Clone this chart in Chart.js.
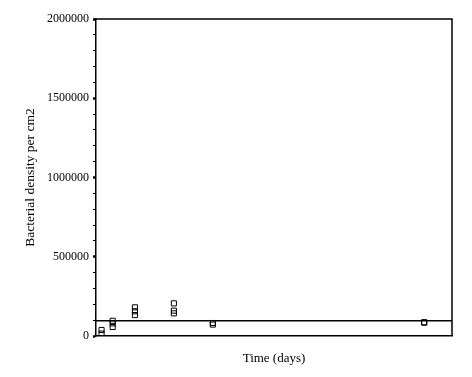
<!DOCTYPE html>
<html>
<head>
<meta charset="utf-8">
<script src="https://cdn.jsdelivr.net/npm/chart.js@4"></script>
<style>
  body { margin: 0; background: #fff; }
  #wrap { width: 472px; height: 377px; }
</style>
</head>
<body>
<div id="wrap"><canvas id="myChart"></canvas></div>
<script>
// sampling day of each measurement (x) and its density (y)
let sampleDay = [0.5, 0.5, 1.5, 1.5, 1.5, 3.5, 3.5, 3.5, 7, 7, 7, 10.5, 10.5, 29.5, 29.5];
let density = [38000, 15000, 96000, 80000, 57000, 181000, 156000, 132000, 206000, 160000, 143000, 82000, 72000, 87000, 84000];
let refLineX = [0, 32];
let refLineY = [97000, 97000];
let yTicksLabelled = [0, 500000, 1000000, 1500000, 2000000];

let points = sampleDay.map(function (d, i) { return { x: d, y: density[i] }; });
let refLine = refLineX.map(function (d, i) { return { x: d, y: refLineY[i] }; });

// top and right frame of the plot
const frame = {
    id: 'frame',
    afterDraw(chart) {
        let a = chart.chartArea;
        let c = chart.ctx;
        c.save();
        c.strokeStyle = '#000';
        c.lineWidth = 1.5;
        c.beginPath();
        c.moveTo(a.left, a.top);
        c.lineTo(a.right, a.top);
        c.lineTo(a.right, a.bottom);
        c.stroke();
        c.restore();
    }
};

const serif = "'Liberation Serif', 'Times New Roman', serif";
const ctx = document.getElementById('myChart').getContext('2d');
const myChart = new Chart(ctx, {
    type: 'scatter',
    data: {
        datasets: [{
            label: 'density',
            data: points,
            pointStyle: 'rect',
            pointRadius: 3.6,
            pointBorderWidth: 1,
            pointBorderColor: '#000',
            pointBackgroundColor: 'rgba(0,0,0,0)',
            showLine: false
        }, {
            label: 'line',
            data: refLine,
            type: 'line',
            borderColor: '#000',
            borderWidth: 1.5,
            pointRadius: 0
        }]
    },
    options: {
        responsive: true,
        maintainAspectRatio: false,
        animation: false,
        layout: { padding: { left: 0, right: 20, top: 19, bottom: 0 } },
        plugins: { legend: { display: false }, tooltip: { enabled: false } },
        scales: {
            x: {
                type: 'linear',
                min: 0,
                max: 32,
                ticks: { display: false },
                grid: { drawOnChartArea: false, drawTicks: false },
                border: { color: '#000', width: 1.5 },
                title: {
                    display: true,
                    text: 'Time (days)',
                    color: '#000',
                    font: { family: serif, size: 13 },
                    padding: { top: 0, bottom: 11 }
                },
                afterFit(scale) { scale.height = 41; }
            },
            y: {
                min: 0,
                max: 2000000,
                ticks: {
                    stepSize: 100000,
                    autoSkip: false,
                    padding: 4,
                    color: '#000',
                    font: { family: serif, size: 12 },
                    callback: function (v) { return yTicksLabelled.includes(v) ? String(v) : ''; }
                },
                grid: {
                    drawOnChartArea: false,
                    tickLength: 3,
                    tickColor: '#000',
                    tickWidth: function (c) { return yTicksLabelled.includes(c.tick.value) ? 2.5 : 1; }
                },
                border: { color: '#000', width: 1.5 },
                title: {
                    display: true,
                    text: 'Bacterial density per cm2',
                    color: '#000',
                    font: { family: serif, size: 13.5 },
                    padding: { top: 22, bottom: 0 }
                },
                afterFit(scale) { scale.width = 96; }
            }
        }
    },
    plugins: [frame]
});
</script>
</body>
</html>
